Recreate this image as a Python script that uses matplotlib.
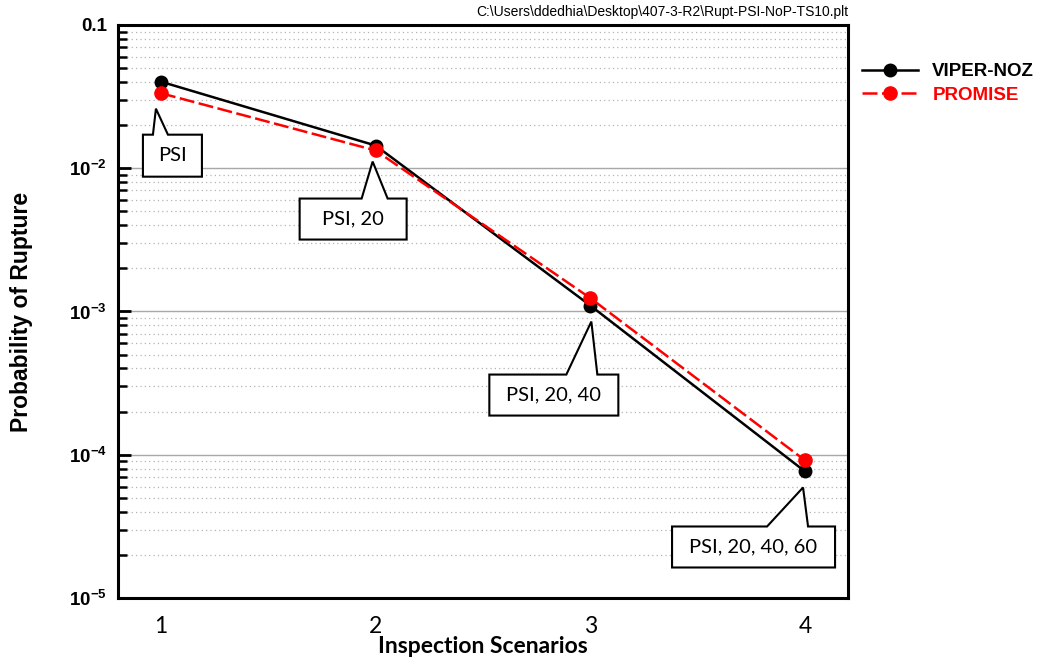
import matplotlib
matplotlib.use('Agg')
import matplotlib.pyplot as plt
import matplotlib.transforms as mtransforms
from matplotlib.patches import Polygon
from matplotlib.ticker import FixedLocator, LogLocator, NullFormatter

plt.rcParams['font.family'] = ['Liberation Sans', 'DejaVu Sans']
plt.rcParams['mathtext.fontset'] = 'custom'
plt.rcParams['mathtext.rm'] = 'Liberation Sans:bold'
plt.rcParams['mathtext.it'] = 'Liberation Sans:bold'
plt.rcParams['mathtext.bf'] = 'Liberation Sans:bold'

# data
scenarios = [1, 2, 3, 4]
viper_noz = [0.0402, 0.0144, 1.10e-3, 7.64e-5]
promise = [0.0334, 0.0133, 1.24e-3, 9.13e-5]
callout_texts = ['PSI', 'PSI, 20', 'PSI, 20, 40', 'PSI, 20, 40, 60']
xtick_labels = ['1', '2', '3', '4']
ytick_vals = [1e-5, 1e-4, 1e-3, 1e-2, 1e-1]
ytick_labels = [r'$10^{-5}$', r'$10^{-4}$', r'$10^{-3}$', r'$10^{-2}$', '0.1']
file_path = r'C:\Users\ddedhia\Desktop\407-3-R2\Rupt-PSI-NoP-TS10.plt'

# callout shapes in pixels relative to each point (y down):
# tip dx, tip dy, box x0, box x1, box y0, box y1, base x0, base x1
callout_shapes = [
    (-5, 27, -18, 41, 53, 95, -8, 7),
    (-3, 16, -76, 31, 53, 94, -14, 12),
    (1, 16, -101, 28, 69, 110, -24, 7),
    (-2, 16, -133, 30, 55, 96, -38, 3),
]

fig = plt.figure(figsize=(10.46, 6.68), dpi=100)
ax = fig.add_axes([0.1128, 0.1048, 0.6979, 0.8578])

ax.set_yscale('log')
ax.set_ylim(1e-5, 1e-1)
ax.set_xlim(0.8, 4.2)

ax.plot(scenarios, viper_noz, color='black', lw=1.8, marker='o', ms=9,
        label='VIPER-NOZ', zorder=3, clip_on=False)
ax.plot(scenarios, promise, color='red', lw=1.8, ls=(0, (6, 1.8)), marker='o', ms=9.5,
        label='PROMISE', zorder=3, clip_on=False)

# grid
ax.yaxis.set_major_locator(FixedLocator(ytick_vals))
ax.yaxis.set_minor_locator(LogLocator(base=10, subs=range(2, 10)))
ax.yaxis.set_minor_formatter(NullFormatter())
ax.set_yticklabels(ytick_labels)
ax.grid(True, which='major', axis='y', color='#a8a8a8', lw=1.0, ls='-', zorder=0)
ax.grid(True, which='minor', axis='y', color='#b4b4b4', lw=0.9, ls=(0, (1, 2.5)), zorder=0)

ax.tick_params(axis='y', which='major', direction='in', length=9.5, width=2,
               labelsize=13.5, pad=8)
ax.tick_params(axis='y', which='minor', direction='in', length=6.5, width=1.8)
for lab in ax.get_yticklabels():
    lab.set_fontweight('bold')

ax.set_xticks(scenarios)
ax.set_xticklabels(xtick_labels, family=['Lato', 'DejaVu Sans'])
ax.tick_params(axis='x', length=0, pad=13, labelsize=16.5)

for sp in ax.spines.values():
    sp.set_linewidth(2.2)

ax.set_ylabel('Probability of Rupture', fontsize=16.5, fontweight='bold', labelpad=26)
ax.set_xlabel('Inspection Scenarios', fontsize=16.5, fontweight='bold',
              family=['Lato', 'DejaVu Sans'], labelpad=-1)

# callouts
for x, y, txt, sh in zip(scenarios, viper_noz, callout_texts, callout_shapes):
    tx, ty, bx0, bx1, by0, by1, b0, b1 = sh
    tr = mtransforms.IdentityTransform() + mtransforms.ScaledTranslation(x, y, ax.transData)
    verts = [(bx0, -by0), (b0, -by0), (tx, -ty), (b1, -by0), (bx1, -by0),
             (bx1, -by1), (bx0, -by1)]
    ax.add_patch(Polygon(verts, closed=True, facecolor='white', edgecolor='black',
                         lw=1.5, transform=tr, clip_on=False, zorder=4))
    ax.text((bx0 + bx1) / 2, -(by0 + by1) / 2, txt, transform=tr, ha='center',
            va='center', fontsize=14.5, family=['Lato', 'DejaVu Sans'], zorder=5)

leg = fig.legend(loc='upper left', bbox_to_anchor=(862 / 1046, 1 - 63 / 668),
                 frameon=False, borderpad=0, borderaxespad=0, handlelength=3.0,
                 handletextpad=0.75, labelspacing=0.35,
                 prop={'weight': 'bold', 'size': 13.5})
for t, c in zip(leg.get_texts(), ['black', 'red']):
    t.set_color(c)

fig.text(848 / 1046, 1 - 12 / 668, file_path, ha='right', va='center', fontsize=10,
         family=['Liberation Sans Narrow', 'Liberation Sans'])

fig.savefig('out.png', dpi=100)
